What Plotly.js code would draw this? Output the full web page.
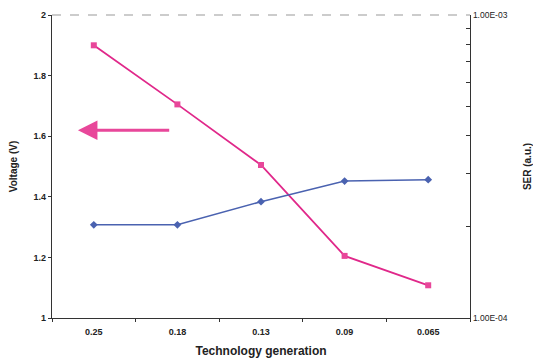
<!DOCTYPE html>
<html><head><meta charset="utf-8">
<script src="https://cdn.plot.ly/plotly-3.0.1.min.js"></script>
<style>html,body{margin:0;padding:0;background:#fff}#c{width:533px;height:359px}</style>
</head><body><div id="c"></div>
<script>
const categories = ['0.25','0.18','0.13','0.09','0.065'];
const voltage = [1.9, 1.705, 1.505, 1.205, 1.108];
const ser = [2.03e-4, 2.03e-4, 2.42e-4, 2.83e-4, 2.86e-4];
const serTickVals = [1e-4,2e-4,3e-4,4e-4,5e-4,6e-4,7e-4,8e-4,9e-4,1e-3];
const serTickText = ['1.00E-04','','','','','','','','','1.00E-03'];

const FF = 'Liberation Sans, Arial, sans-serif';
const tf = {family:FF, size:9, color:'#222', weight:'bold'};
const data = [
  {x:categories, y:ser, yaxis:'y2', type:'scatter', mode:'lines+markers',
   line:{color:'#4a62b0', width:1.5}, marker:{symbol:'diamond', size:6, color:'#4a62b0'}, showlegend:false},
  {x:categories, y:voltage, type:'scatter', mode:'lines+markers',
   line:{color:'#e0288a', width:1.8}, marker:{symbol:'square', size:6, color:'#e8479a'}, showlegend:false}
];
const layout = {
  width:533, height:359,
  margin:{l:52, r:63, t:15, b:41},
  paper_bgcolor:'#fff', plot_bgcolor:'#fff',
  font:{family:FF, size:9, color:'#222'},
  xaxis:{type:'category', range:[-0.5,4.5], tickson:'boundaries', ticks:'outside', ticklen:3, tickcolor:'#333',
    showline:true, linecolor:'#333', linewidth:1.2, showgrid:false, zeroline:false, automargin:false,
    tickfont:tf, ticklabelstandoff:5,
    title:{text:'Technology generation', font:{family:FF, size:12, color:'#222', weight:'bold'}, standoff:10}},
  yaxis:{range:[1,2], dtick:0.2, ticks:'outside', ticklen:3, tickcolor:'#333', automargin:false,
    showline:true, linecolor:'#333', linewidth:1.2, showgrid:false, zeroline:false,
    tickfont:tf,
    title:{text:'Voltage (V)', font:{family:FF, size:10, color:'#222', weight:'bold'}, standoff:14}},
  yaxis2:{type:'log', range:[-4,-3], overlaying:'y', side:'right', automargin:false,
    tickvals:serTickVals, ticktext:serTickText, ticks:'inside', ticklen:4, tickcolor:'#333',
    showline:true, linecolor:'#333', linewidth:1.2, showgrid:false, zeroline:false,
    tickfont:{family:FF, size:8.5, color:'#222'},
    title:{text:'SER (a.u.)', font:{family:FF, size:10, color:'#222', weight:'bold'}, standoff:30}},
  shapes:[{type:'line', xref:'paper', yref:'paper', x0:0, x1:1, y0:1, y1:1,
    line:{color:'#999', width:1, dash:'dash'}}],
  annotations:[{x:-0.19, y:1.62, ax:0.92, ay:1.62, xref:'x', yref:'y', axref:'x', ayref:'y',
    text:'', showarrow:true, arrowhead:2, arrowsize:1.3, arrowwidth:3, arrowcolor:'#e8479a'}]
};
Plotly.newPlot('c', data, layout, {displayModeBar:false, staticPlot:true});
</script></body></html>
